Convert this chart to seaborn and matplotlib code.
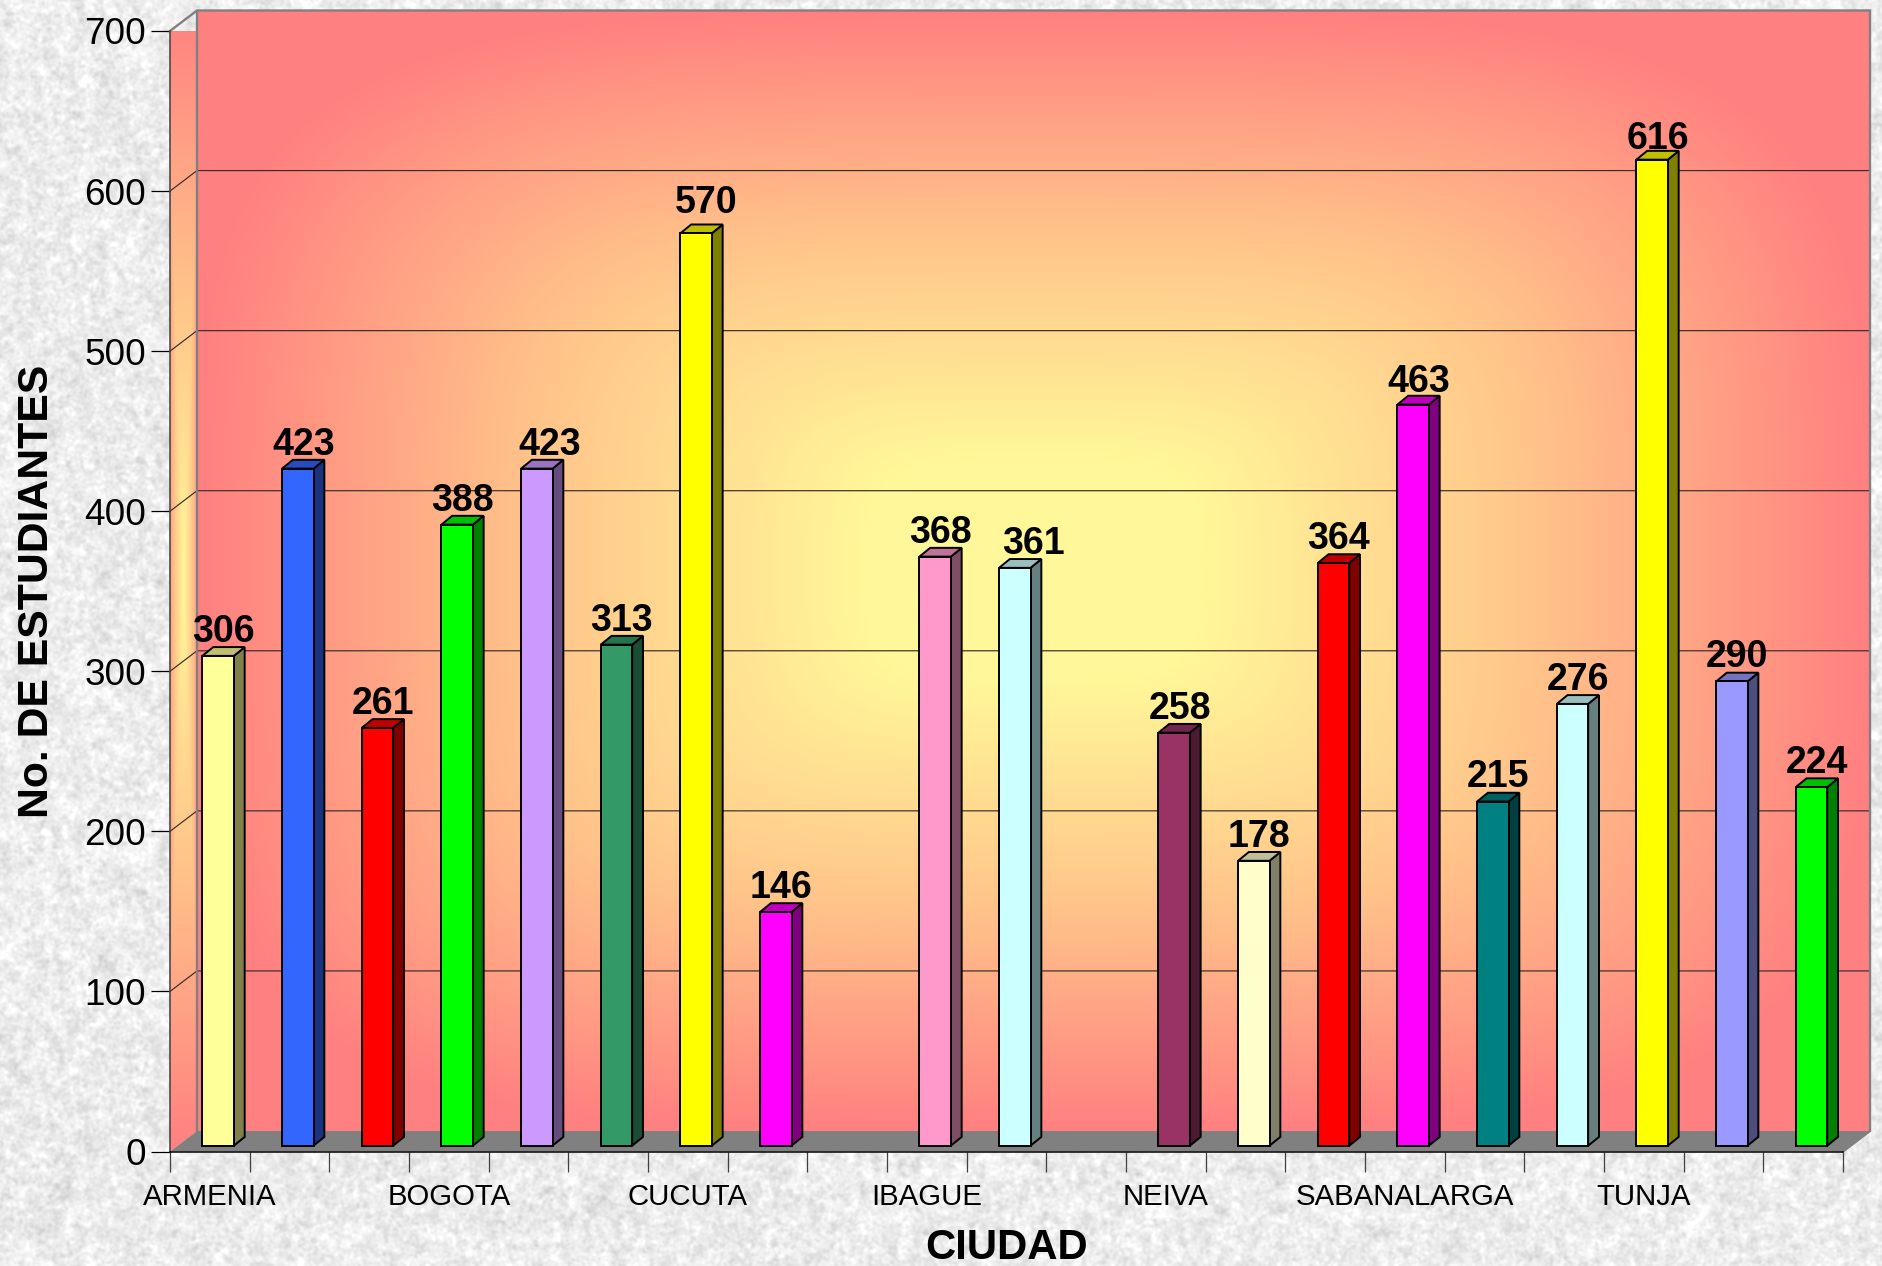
import numpy as np
import matplotlib
matplotlib.use("Agg")
import matplotlib.pyplot as plt
from matplotlib.colors import LinearSegmentedColormap, to_rgb
from matplotlib.patches import Polygon
import seaborn as sns

categorias = ["ARMENIA", "c1", "c2", "BOGOTA", "c4", "c5", "CUCUTA", "c7", "c8", "IBAGUE", "c10",
              "c11", "NEIVA", "c13", "c14", "SABANALARGA", "c16", "c17", "TUNJA", "c19", "c20"]
estudiantes = [306, 423, 261, 388, 423, 313, 570, 146, np.nan, 368, 361,
               np.nan, 258, 178, 364, 463, 215, 276, 616, 290, 224]
colores = ["#FFFF99", "#3366FF", "#FF0000", "#00FF00", "#CC99FF", "#339966", "#FFFF00", "#FF00FF",
           "#FFFFFF", "#FF99CC", "#CCFFFF", "#FFFFFF", "#993366", "#FFFFCC", "#FF0000", "#FF00FF",
           "#008080", "#CCFFFF", "#FFFF00", "#9999FF", "#00FF00"]
ciudades = ["ARMENIA", "BOGOTA", "CUCUTA", "IBAGUE", "NEIVA", "SABANALARGA", "TUNJA"]
yticks = [0, 100, 200, 300, 400, 500, 600, 700]

W, H = 1883, 1266
AX_L, AX_R, AX_T, AX_B = 170, 1843, 31, 1151.5
PX_X = (AX_R - AX_L) / 21
PX_Y = (AX_B - AX_T) / 700

# etiquetas movidas a mano en el original (px)
ajuste_etiquetas = {4: (7, 0), 6: (5, 6), 10: (13, 0), 18: (0, -3), 15: (0, -2)}

sns.set_theme(style="white")
plt.rcParams["font.family"] = ["Liberation Sans", "DejaVu Sans"]


def textura(w, h):
    # hash de senos + suavizado, fondo tipo granito
    yy, xx = np.mgrid[0:h, 0:w]
    n = np.sin(xx * 12.9898 + yy * 78.233) * 43758.5453
    n = n - np.floor(n)
    fy = np.fft.fftfreq(h)[:, None]
    fx = np.fft.rfftfreq(w)[None, :]
    spec = np.fft.rfft2(n)
    fino = np.fft.irfft2(spec * np.exp(-(fx**2 + fy**2) * 2 * (np.pi * 1.3) ** 2), s=(h, w))
    grueso = np.fft.irfft2(spec * np.exp(-(fx**2 + fy**2) * 2 * (np.pi * 4) ** 2), s=(h, w))
    fino = (fino - fino.mean()) / fino.std()
    grueso = (grueso - grueso.mean()) / grueso.std()
    return np.clip(0.925 + 0.022 * fino + 0.012 * grueso, 0, 1)


pared = LinearSegmentedColormap.from_list("pared", ["#FF8080", "#FFC48A", "#FFF799"])

fig = plt.figure(figsize=(W / 100, H / 100), dpi=100)
bg = fig.add_axes([0, 0, 1, 1], zorder=0)
bg.imshow(textura(W, H), cmap="gray", vmin=0, vmax=1, aspect="auto")
bg.axis("off")

ax = fig.add_axes([AX_L / W, 1 - AX_B / H, (AX_R - AX_L) / W, (AX_B - AX_T) / H], zorder=1)
ax.patch.set_alpha(0)

sns.barplot(x=categorias, y=estudiantes, hue=categorias, order=categorias, hue_order=categorias,
            palette=colores, legend=False, width=0.395, dodge=False, saturation=1,
            edgecolor="black", linewidth=1.4, ax=ax, zorder=5)

x0, x1 = -0.5, 20.5
ax.set_xlim(x0, x1)
ax.set_ylim(0, 700)

# profundidad de la pared y de las barras, en unidades de datos
wall_dx = 27 / PX_X
wall_dy = 20.5 / PX_Y
bar_dx = 10.8 / PX_X
bar_dy = 8.8 / PX_Y
off_x = 8.3 / PX_X
off_y = 5.8 / PX_Y

# pared del fondo
v, u = np.mgrid[-1:1:500j, -1:1:800j]
d = (np.abs(u) ** 4 + np.abs(v) ** 4) ** 0.25
ax.imshow(np.clip(1.25 * (1 - d), 0, 1), cmap=pared, vmin=0, vmax=1, aspect="auto", zorder=0, clip_on=False,
          extent=[x0 + wall_dx, x1 + wall_dx, wall_dy, 700 + wall_dy])

# pared lateral
d2 = np.maximum(np.abs(v), np.abs(u) * 0.75)
lado = ax.imshow(np.clip(1 - d2, 0, 1), cmap=pared, vmin=0, vmax=1, aspect="auto", zorder=0,
                 extent=[x0, x0 + wall_dx, 0, 700 + wall_dy])
poly_lado = Polygon([(x0, 0), (x0 + wall_dx, wall_dy), (x0 + wall_dx, 700 + wall_dy), (x0, 700)],
                    closed=True, transform=ax.transData, fill=False, ec="none")
ax.add_patch(poly_lado)
poly_lado.set_clip_on(False)
lado.set_clip_path(poly_lado)
ax.set_xlim(x0, x1)
ax.set_ylim(0, 700)

# piso
ax.add_patch(Polygon([(x0, 0), (x0 + wall_dx, wall_dy), (x1 + wall_dx, wall_dy), (x1, 0)],
                     closed=True, fc="#808080", ec="none", zorder=1, clip_on=False))

# lineas de division
for val in yticks[1:-1]:
    ax.plot([x0, x0 + wall_dx, x1 + wall_dx], [val, val + wall_dy, val + wall_dy],
            color="#3A2A2A", lw=0.85, zorder=2, clip_on=False)
ax.plot([x0, x0 + wall_dx, x1 + wall_dx, x1 + wall_dx, x1],
        [700, 700 + wall_dy, 700 + wall_dy, wall_dy, 0],
        color="#808080", lw=1.7, zorder=2, clip_on=False, solid_joinstyle="miter")
ax.plot([x0 + wall_dx, x0 + wall_dx], [wall_dy, 700 + wall_dy], color="#808080", lw=1.7, zorder=2, clip_on=False)

# barras: caras 3D y etiquetas (seaborn omite las categorias vacias)
barras = [b for cont in ax.containers for b in cont]
for b in barras:
    i = int(round(b.get_x() + b.get_width() / 2))
    val, col = estudiantes[i], colores[i]
    if np.isnan(val):
        continue
    b.set_x(b.get_x() + off_x)
    b.set_y(off_y)
    b.set_clip_on(False)
    xa, xb = b.get_x(), b.get_x() + b.get_width()
    ya, yb = off_y, off_y + val
    rgb = np.array(to_rgb(col))
    ax.add_patch(Polygon([(xb, ya), (xb + bar_dx, ya + bar_dy), (xb + bar_dx, yb + bar_dy), (xb, yb)],
                         closed=True, fc=rgb * 0.5, ec="black", lw=1.4, zorder=4, clip_on=False))
    ax.add_patch(Polygon([(xa, yb), (xa + bar_dx, yb + bar_dy), (xb + bar_dx, yb + bar_dy), (xb, yb)],
                         closed=True, fc=rgb * 0.75, ec="black", lw=1.4, zorder=4, clip_on=False))
    nx, ny = ajuste_etiquetas.get(i, (0, 0))
    ax.text((xa + xb + bar_dx) / 2 + nx / PX_X, yb + 8.8 + ny / PX_Y, f"{val:.0f}", ha="center", va="baseline",
            fontsize=27, fontweight="bold", color="black", zorder=6, clip_on=False)

# ejes
sns.despine(ax=ax, top=True, right=True)
ax.spines["left"].set_color("#404040")
ax.spines["bottom"].set_color("black")
ax.spines["left"].set_linewidth(1.1)
ax.spines["bottom"].set_linewidth(1.1)
ax.spines["left"].set_zorder(3)
ax.spines["bottom"].set_zorder(3)

ax.set_yticks(yticks)
ax.tick_params(axis="y", left=True, length=13.7, width=0.9, color="black", pad=3.5, labelsize=26.6, labelcolor="black")
ax.set_xticks(np.arange(-0.5, 21), labels=[""] * 22)
ax.tick_params(axis="x", which="major", bottom=True, length=14.4, width=0.9, color="#404040")
ax.set_xticks([categorias.index(c) for c in ciudades], labels=ciudades, minor=True)
ax.tick_params(axis="x", which="minor", bottom=False, length=0, pad=23, labelsize=21.2, labelcolor="black")

ax.set_xlabel("CIUDAD", fontsize=30.2, fontweight="bold", color="black", va="center")
ax.xaxis.set_label_coords(0.5, (AX_B - 1248) / (AX_B - AX_T))
ax.set_ylabel("No. DE ESTUDIANTES", fontsize=30.8, fontweight="bold", color="black", va="center")
ax.yaxis.set_label_coords((37.5 - AX_L) / (AX_R - AX_L), 0.5)

fig.savefig("out.png", dpi=100)
plt.close(fig)
